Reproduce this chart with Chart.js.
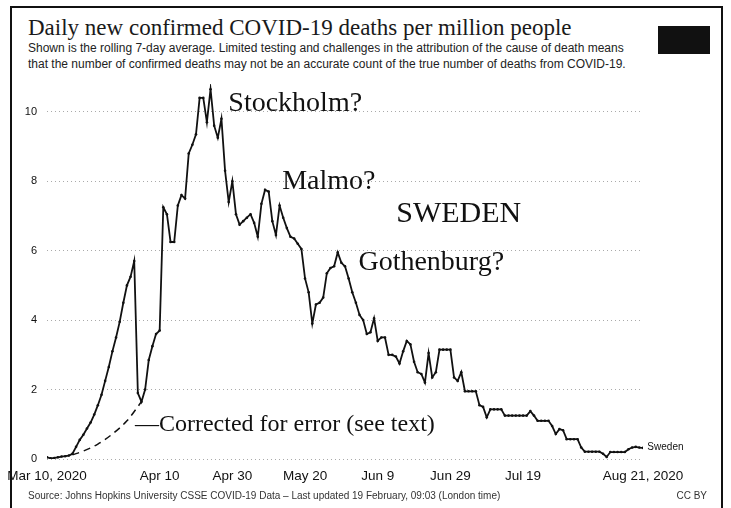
<!DOCTYPE html>
<html lang="en">
<head>
<meta charset="UTF-8">
<title>Daily new confirmed COVID-19 deaths per million people</title>
<script src="https://cdn.jsdelivr.net/npm/chart.js"></script>
<style>
  body {
    margin: 0;
    width: 731px;
    height: 508px;
    overflow: hidden;
    position: relative;
    background: #fff;
    font-family: "Liberation Sans", Arial, sans-serif;
    color: #111;
  }
  .frame {
    position: absolute;
    left: 10px; top: 6px;
    width: 709px; height: 520px;
    border: 2px solid #111;
    border-bottom: none;
  }
  h1 {
    position: absolute;
    left: 28px; top: 15px;
    margin: 0;
    font: normal 23px "Liberation Serif", "Times New Roman", serif;
    color: #1a1a1a;
    white-space: nowrap;
  }
  .sub {
    position: absolute;
    left: 28px; top: 40px;
    font-size: 12px;
    line-height: 16px;
    color: #222;
    white-space: nowrap;
  }
  .logo {
    position: absolute;
    left: 658px; top: 26px;
    width: 52px; height: 28px;
    background: #111;
  }
  .foot {
    position: absolute;
    left: 28px; top: 490px;
    font-size: 10px;
    color: #333;
    white-space: nowrap;
  }
  .cc {
    position: absolute;
    right: 24px; top: 490px;
    font-size: 10px;
    color: #333;
  }
  #wrap {
    position: absolute;
    left: 0; top: 0;
    width: 731px; height: 508px;
  }
</style>
</head>
<body>
  <div class="frame"></div>
  <h1>Daily new confirmed COVID-19 deaths per million people</h1>
  <div class="sub">Shown is the rolling 7-day average. Limited testing and challenges in the attribution of the cause of death means<br>that the number of confirmed deaths may not be an accurate count of the true number of deaths from COVID-19.</div>
  <div class="logo"></div>
  <div id="wrap"><canvas id="chart"></canvas></div>
  <div class="foot">Source: Johns Hopkins University CSSE COVID-19 Data – Last updated 19 February, 09:03 (London time)</div>
  <div class="cc">CC BY</div>

<script>
// days since Mar 10, 2020 -> x position
const xTickDays = [0, 31, 51, 71, 91, 111, 131, 164];
const xTickLabels = ['Mar 10, 2020', 'Apr 10', 'Apr 30', 'May 20', 'Jun 9', 'Jun 29', 'Jul 19', 'Aug 21, 2020'];
const yTicks = [0, 2, 4, 6, 8, 10];

// Sweden, daily deaths per million (7-day avg), one value per day from Mar 10
const sweden = [
  0.05, 0.02, 0.03, 0.05, 0.07, 0.08, 0.1, 0.15, 0.35, 0.55,
  0.7, 0.88, 1.05, 1.28, 1.55, 1.85, 2.25, 2.65, 3.1, 3.5,
  3.95, 4.5, 5.0, 5.25, 5.7, 1.9, 1.65, 2.0, 2.85, 3.25,
  3.6, 3.7, 7.25, 7.05, 6.25, 6.25, 7.3, 7.6, 7.5, 8.8,
  9.05, 9.35, 10.4, 10.4, 9.7, 10.65, 9.6, 9.25, 9.8, 8.3,
  7.4, 8.0, 7.05, 6.75, 6.85, 6.95, 7.05, 6.8, 6.4, 7.35,
  7.75, 7.7, 6.85, 6.45, 7.3, 6.95, 6.65, 6.4, 6.35, 6.2,
  6.05, 5.2, 4.8, 3.9, 4.45, 4.5, 4.65, 5.35, 5.5, 5.55,
  5.95, 5.65, 5.55, 5.2, 4.8, 4.5, 4.15, 4.0, 3.6, 3.65,
  4.05, 3.4, 3.5, 3.5, 3.0, 3.0, 2.95, 2.75, 3.1, 3.4,
  3.3, 2.8, 2.5, 2.45, 2.2, 3.05, 2.35, 2.5, 3.15, 3.15,
  3.15, 3.15, 2.35, 2.25, 2.5, 1.95, 1.95, 1.95, 1.95, 1.55,
  1.5, 1.2, 1.43, 1.43, 1.43, 1.43, 1.25, 1.25, 1.25, 1.25,
  1.25, 1.25, 1.25, 1.38, 1.25, 1.1, 1.1, 1.1, 1.1, 0.95,
  0.72, 0.86, 0.83, 0.57, 0.57, 0.57, 0.57, 0.33, 0.21, 0.21,
  0.21, 0.21, 0.21, 0.15, 0.06, 0.2, 0.2, 0.2, 0.2, 0.2,
  0.28, 0.33, 0.35, 0.33, 0.32
];

// hand-drawn "corrected" curve (dashed)
const correctedDays = [7, 10, 14, 18, 22, 26];
const correctedValues = [0.12, 0.23, 0.43, 0.72, 1.1, 1.65];

// annotations written on the chart (day, value at left/middle of text)
const notes = [
  { text: 'Stockholm?', day: 49.9, value: 10.23, font: '28px "Liberation Serif", serif' },
  { text: 'Malmo?', day: 64.7, value: 8.0, font: '28px "Liberation Serif", serif' },
  { text: 'SWEDEN', day: 96.1, value: 7.06, font: '30px "Liberation Serif", serif' },
  { text: 'Gothenburg?', day: 85.7, value: 5.65, font: '28px "Liberation Serif", serif' },
  { text: '—Corrected for error (see text)', day: 24.2, value: 0.98, font: '24px "Liberation Serif", serif' },
  { text: 'Sweden', day: 165.2, value: 0.34, font: '10px "Liberation Sans", sans-serif' }
];

const notesPlugin = {
  id: 'notes',
  afterDraw(chart) {
    const ctx = chart.ctx;
    const xs = chart.scales.x, ys = chart.scales.y;
    ctx.save();
    ctx.fillStyle = '#111';
    ctx.textAlign = 'left';
    ctx.textBaseline = 'middle';
    notes.forEach(n => {
      ctx.font = n.font;
      ctx.fillText(n.text, xs.getPixelForValue(n.day), ys.getPixelForValue(n.value));
    });
    ctx.restore();
  }
};

new Chart(document.getElementById('chart'), {
  type: 'line',
  data: {
    datasets: [
      {
        label: 'Sweden',
        data: sweden.map((v, i) => ({ x: i, y: v })),
        borderColor: '#111',
        backgroundColor: '#111',
        borderWidth: 1.8,
        pointRadius: 1.3,
        pointBorderWidth: 0,
        tension: 0
      },
      {
        label: 'Corrected',
        data: correctedDays.map((d, i) => ({ x: d, y: correctedValues[i] })),
        borderColor: '#111',
        borderWidth: 1.5,
        borderDash: [7, 5],
        pointRadius: 0,
        cubicInterpolationMode: 'monotone'
      }
    ]
  },
  options: {
    responsive: true,
    maintainAspectRatio: false,
    animation: false,
    layout: { padding: { top: 84, right: 88, bottom: 20, left: 0 } },
    plugins: {
      legend: { display: false },
      tooltip: { enabled: false }
    },
    scales: {
      x: {
        type: 'linear',
        min: 0,
        max: 164,
        afterBuildTicks: axis => { axis.ticks = xTickDays.map(v => ({ value: v })); },
        afterFit: axis => { axis.height = 29; },
        ticks: {
          autoSkip: false,
          maxRotation: 0,
          padding: 1,
          color: '#111',
          font: { family: '"Liberation Sans", Arial, sans-serif', size: 13.5 },
          callback: v => xTickLabels[xTickDays.indexOf(v)]
        },
        grid: { display: false },
        border: { display: false }
      },
      y: {
        min: 0,
        max: 10.8,
        afterBuildTicks: axis => { axis.ticks = yTicks.map(v => ({ value: v })); },
        afterFit: axis => { axis.width = 47; },
        ticks: {
          padding: 10,
          color: '#111',
          font: { family: '"Liberation Sans", Arial, sans-serif', size: 11 }
        },
        grid: { color: '#aaa', lineWidth: 1, drawTicks: false },
        border: { display: false, dash: [1, 3] }
      }
    }
  },
  plugins: [notesPlugin]
});
</script>
</body>
</html>
